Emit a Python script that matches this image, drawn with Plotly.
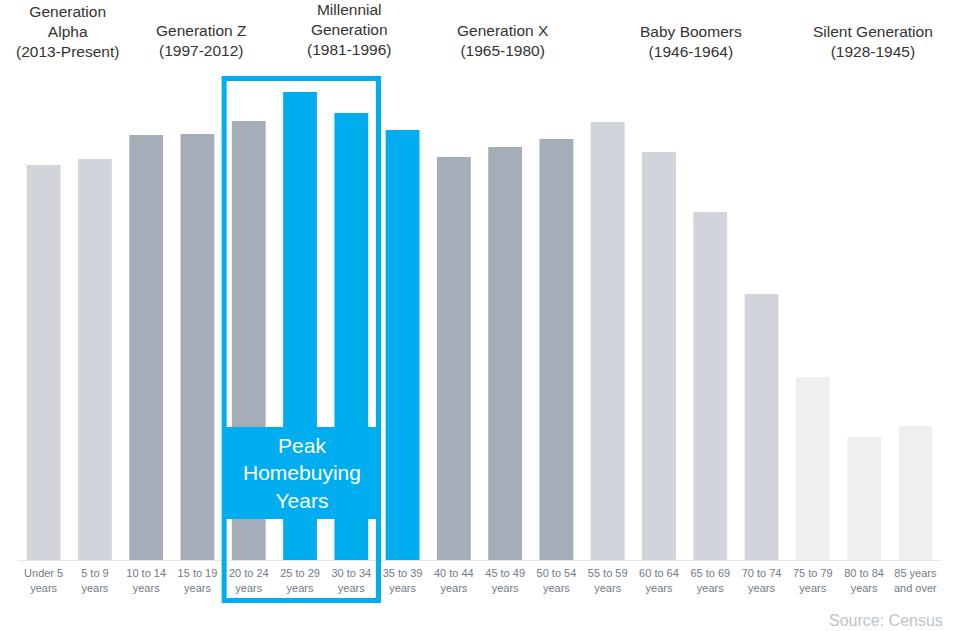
import plotly.graph_objects as go

# US population by age group (millions)
age_groups = [
    "Under 5<br>years", "5 to 9<br>years", "10 to 14<br>years", "15 to 19<br>years",
    "20 to 24<br>years", "25 to 29<br>years", "30 to 34<br>years", "35 to 39<br>years",
    "40 to 44<br>years", "45 to 49<br>years", "50 to 54<br>years", "55 to 59<br>years",
    "60 to 64<br>years", "65 to 69<br>years", "70 to 74<br>years", "75 to 79<br>years",
    "80 to 84<br>years", "85 years<br>and over",
]
population = [19.75, 20.05, 21.25, 21.3, 21.95, 23.4, 22.35, 21.5, 20.15,
              20.65, 21.05, 21.9, 20.4, 17.4, 13.3, 9.15, 6.15, 6.7]
generation = ["alpha", "alpha", "z", "z", "z", "mill", "mill", "mill", "x", "x", "x",
              "boomer", "boomer", "boomer", "boomer", "silent", "silent", "silent"]

gen_colors = {
    "alpha": "#d1d5db",
    "z": "#a5adb8",
    "mill": "#00aeef",
    "x": "#a5adb8",
    "boomer": "#d1d5db",
    "silent": "#efefef",
}

gen_labels = [
    "Generation<br>Alpha<br>(2013-Present)",
    "Generation Z<br>(1997-2012)",
    "Millennial<br>Generation<br>(1981-1996)",
    "Generation X<br>(1965-1980)",
    "Baby Boomers<br>(1946-1964)",
    "Silent Generation<br>(1928-1945)",
]
gen_label_x = [0.47, 3.07, 5.96, 8.96, 12.62, 16.17]
gen_label_y = [1.056, 1.038, 1.06, 1.038, 1.036, 1.036]

BLUE = "#00aeef"
FONT = "Liberation Sans, Arial, Helvetica, sans-serif"

fig = go.Figure(
    go.Bar(
        x=list(range(len(age_groups))),
        y=population,
        marker=dict(color=[gen_colors[g] for g in generation], line=dict(width=0)),
        hoverinfo="skip",
    )
)

# Frame around the peak homebuying age groups
fig.add_shape(
    type="rect", xref="x", yref="paper",
    x0=3.52, x1=6.53, y0=-0.081, y1=0.963,
    line=dict(color=BLUE, width=5), fillcolor="rgba(0,0,0,0)", layer="above",
)
# Label panel
fig.add_shape(
    type="rect", xref="x", yref="paper",
    x0=3.48, x1=6.58, y0=0.082, y1=0.266,
    line=dict(width=0), fillcolor=BLUE, layer="above",
)
fig.add_annotation(
    x=5.03, y=0.174, xref="x", yref="paper",
    text="Peak<br>Homebuying<br>Years", showarrow=False,
    font=dict(family=FONT, size=21, color="white"),
    xanchor="center", yanchor="middle",
)

for txt, gx, gy in zip(gen_labels, gen_label_x, gen_label_y):
    fig.add_annotation(
        x=gx, y=gy, xref="x", yref="paper", text=txt, showarrow=False,
        font=dict(family=FONT, size=15.5, color="#333333"),
        xanchor="center", yanchor="middle",
    )

fig.add_annotation(
    x=1.0, y=-0.12, xref="paper", yref="paper", text="Source: Census",
    showarrow=False, font=dict(family=FONT, size=16, color="#c0c4c8"),
    xanchor="right", yanchor="middle", xshift=4,
)

fig.update_layout(
    width=965, height=631,
    margin=dict(l=18, r=24, t=60, b=71),
    paper_bgcolor="white", plot_bgcolor="white",
    bargap=0.34, showlegend=False,
    xaxis=dict(
        tickmode="array", tickvals=list(range(len(age_groups))), ticktext=age_groups,
        range=[-0.5, len(age_groups) - 0.5],
        tickfont=dict(family=FONT, size=11, color="#737a84"),
        ticklabelstandoff=3,
        showline=True, linecolor="#e8e8e8", linewidth=1,
        showgrid=False, zeroline=False, ticks="", fixedrange=True,
    ),
    yaxis=dict(range=[0, 25], visible=False, fixedrange=True),
)

fig.write_html("out.html")
